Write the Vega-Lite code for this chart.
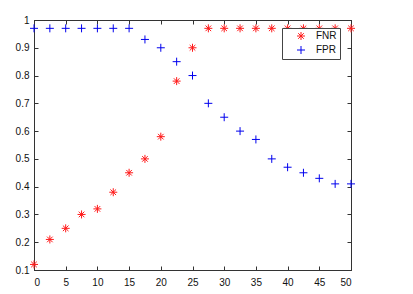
{
  "$schema": "https://vega.github.io/schema/vega-lite/v6.json",
  "autosize": "none",
  "width": 317,
  "height": 250,
  "padding": {"left": 34, "top": 20, "right": 62, "bottom": 24},
  "background": "white",
  "config": {
    "view": {"stroke": "#333", "strokeWidth": 1},
    "axis": {"font": "Liberation Sans", "labelFont": "Liberation Sans", "labelFontSize": 10, "labelColor": "#111", "domainColor": "#333", "tickColor": "#333", "grid": false, "title": null}
  },
  "data": {"values": [
    {"x": 0, "rate": 0.12, "series": "FNR"},
    {"x": 2.5, "rate": 0.21, "series": "FNR"},
    {"x": 5, "rate": 0.25, "series": "FNR"},
    {"x": 7.5, "rate": 0.30, "series": "FNR"},
    {"x": 10, "rate": 0.32, "series": "FNR"},
    {"x": 12.5, "rate": 0.38, "series": "FNR"},
    {"x": 15, "rate": 0.45, "series": "FNR"},
    {"x": 17.5, "rate": 0.50, "series": "FNR"},
    {"x": 20, "rate": 0.58, "series": "FNR"},
    {"x": 22.5, "rate": 0.78, "series": "FNR"},
    {"x": 25, "rate": 0.90, "series": "FNR"},
    {"x": 27.5, "rate": 0.97, "series": "FNR"},
    {"x": 30, "rate": 0.97, "series": "FNR"},
    {"x": 32.5, "rate": 0.97, "series": "FNR"},
    {"x": 35, "rate": 0.97, "series": "FNR"},
    {"x": 37.5, "rate": 0.97, "series": "FNR"},
    {"x": 40, "rate": 0.97, "series": "FNR"},
    {"x": 42.5, "rate": 0.97, "series": "FNR"},
    {"x": 45, "rate": 0.97, "series": "FNR"},
    {"x": 47.5, "rate": 0.97, "series": "FNR"},
    {"x": 50, "rate": 0.97, "series": "FNR"},
    {"x": 0, "rate": 0.97, "series": "FPR"},
    {"x": 2.5, "rate": 0.97, "series": "FPR"},
    {"x": 5, "rate": 0.97, "series": "FPR"},
    {"x": 7.5, "rate": 0.97, "series": "FPR"},
    {"x": 10, "rate": 0.97, "series": "FPR"},
    {"x": 12.5, "rate": 0.97, "series": "FPR"},
    {"x": 15, "rate": 0.97, "series": "FPR"},
    {"x": 17.5, "rate": 0.93, "series": "FPR"},
    {"x": 20, "rate": 0.90, "series": "FPR"},
    {"x": 22.5, "rate": 0.85, "series": "FPR"},
    {"x": 25, "rate": 0.80, "series": "FPR"},
    {"x": 27.5, "rate": 0.70, "series": "FPR"},
    {"x": 30, "rate": 0.65, "series": "FPR"},
    {"x": 32.5, "rate": 0.60, "series": "FPR"},
    {"x": 35, "rate": 0.57, "series": "FPR"},
    {"x": 37.5, "rate": 0.50, "series": "FPR"},
    {"x": 40, "rate": 0.47, "series": "FPR"},
    {"x": 42.5, "rate": 0.45, "series": "FPR"},
    {"x": 45, "rate": 0.43, "series": "FPR"},
    {"x": 47.5, "rate": 0.41, "series": "FPR"},
    {"x": 50, "rate": 0.41, "series": "FPR"}
  ]},
  "layer": [
    {
      "mark": {"type": "point", "filled": false, "strokeWidth": 1, "size": 64, "opacity": 1, "clip": false},
      "encoding": {
        "x": {"field": "x", "type": "quantitative", "scale": {"domain": [0, 50], "nice": false, "zero": false},
          "axis": {"values": [0,5,10,15,20,25,30,35,40,45,50], "tickSize": -4, "labelPadding": 11, "domain": true}},
        "y": {"field": "rate", "type": "quantitative", "scale": {"domain": [0.1, 1], "nice": false, "zero": false},
          "axis": {"values": [0.1,0.2,0.3,0.4,0.5,0.6,0.7,0.8,0.9,1], "tickSize": -4, "labelPadding": 9, "format": "~g"}},
        "color": {"field": "series", "type": "nominal", "scale": {"domain": ["FNR", "FPR"], "range": ["#ff1a1a", "#0000ee"]},
          "legend": {"title": null, "orient": "none", "legendX": 248, "legendY": 8, "strokeColor": "#444", "fillColor": "white", "padding": 3, "labelFont": "Liberation Sans", "labelFontSize": 10, "labelColor": "#111", "symbolSize": 64, "symbolStrokeWidth": 1, "labelOffset": 10, "rowPadding": 2, "symbolOffset": 11}},
        "shape": {"field": "series", "type": "nominal", "scale": {"domain": ["FNR", "FPR"], "range": ["M-1,0L1,0M0,-1L0,1M-0.7,-0.7L0.7,0.7M-0.7,0.7L0.7,-0.7", "M-1,0L1,0M0,-1L0,1"]}}
      }
    },
    {
      "mark": {"type": "point", "opacity": 0},
      "encoding": {
        "x": {"field": "x", "type": "quantitative", "scale": {"domain": [0, 50], "nice": false, "zero": false},
          "axis": {"orient": "top", "values": [0,5,10,15,20,25,30,35,40,45,50], "tickSize": -4, "labels": false}},
        "y": {"field": "rate", "type": "quantitative", "scale": {"domain": [0.1, 1], "nice": false, "zero": false},
          "axis": {"orient": "right", "values": [0.1,0.2,0.3,0.4,0.5,0.6,0.7,0.8,0.9,1], "tickSize": -4, "labels": false}}
      }
    }
  ],
  "resolve": {"scale": {"x": "independent", "y": "independent"}, "axis": {"x": "independent", "y": "independent"}}
}
